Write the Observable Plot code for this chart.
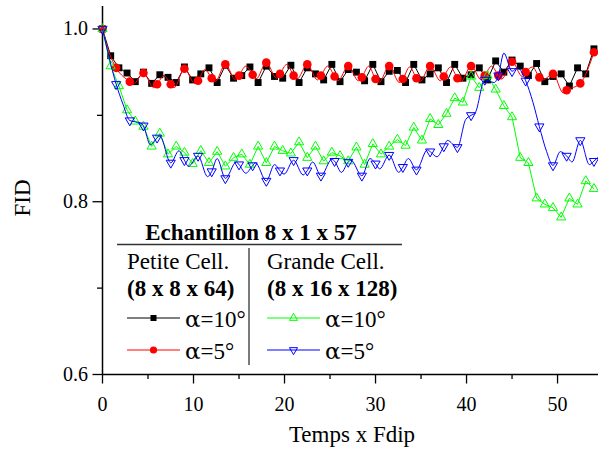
<!DOCTYPE html>
<html>
<head>
<meta charset="utf-8">
<script src="https://cdn.jsdelivr.net/npm/d3@7"></script>
<script src="https://cdn.jsdelivr.net/npm/@observablehq/plot@0.6"></script>
<style>
  html, body { margin: 0; padding: 0; background: #fff; }
</style>
</head>
<body>
<div id="chart"></div>
<script>
// ---------------- data ----------------
// sampling steps of the runs (time in units of 1/Fdip)
const stepBG = 0.9;   // black & green runs: one symbol every 0.9
const stepRB = 1.5;   // red & blue runs: one symbol every 1.5

// Petite Cell., alpha = 10° (black squares)
const blackVals = [
  1.000, 0.969, 0.955, 0.949, 0.939, 0.950, 0.937, 0.947, 0.944, 0.938,
  0.956, 0.941, 0.948, 0.955, 0.938, 0.958, 0.943, 0.946, 0.956, 0.938,
  0.957, 0.945, 0.943, 0.958, 0.938, 0.955, 0.948, 0.941, 0.959, 0.939,
  0.953, 0.950, 0.940, 0.959, 0.939, 0.951, 0.952, 0.938, 0.959, 0.941,
  0.948, 0.955, 0.938, 0.959, 0.943, 0.947, 0.955, 0.941, 0.963, 0.950,
  0.964, 0.957, 0.946, 0.960, 0.939, 0.945, 0.948, 0.934, 0.955, 0.948,
  0.977
];

// Grande Cell., alpha = 10° (green triangles)
const greenVals = [
  1.000, 0.957, 0.934, 0.906, 0.893, 0.887, 0.864, 0.879, 0.855, 0.864,
  0.857, 0.844, 0.859, 0.845, 0.858, 0.841, 0.851, 0.855, 0.843, 0.864,
  0.845, 0.864, 0.859, 0.856, 0.869, 0.851, 0.864, 0.847, 0.857, 0.853,
  0.847, 0.863, 0.843, 0.867, 0.855, 0.864, 0.872, 0.865, 0.886, 0.871,
  0.896, 0.889, 0.902, 0.920, 0.915, 0.945, 0.932, 0.946, 0.930, 0.911,
  0.898, 0.851, 0.845, 0.804, 0.797, 0.793, 0.782, 0.804, 0.797, 0.824,
  0.815
];

// Petite Cell., alpha = 5° (red circles) : symbol values
const redVals = [
  1.000, 0.955, 0.939, 0.949, 0.936, 0.936, 0.954, 0.940, 0.943, 0.959,
  0.946, 0.947, 0.961, 0.948, 0.946, 0.959, 0.946, 0.945, 0.957, 0.944,
  0.942, 0.957, 0.942, 0.943, 0.957, 0.945, 0.943, 0.957, 0.946, 0.946,
  0.962, 0.950, 0.944, 0.948, 0.929, 0.937, 0.973
];
// red curve: turning points between the symbols
const redExtraT = [0.75, 3.375, 5.625, 6.75, 7.875, 10.125, 11.25, 12.375, 14.625, 15.75,
  16.875, 19.125, 20.25, 21.375, 23.625, 24.75, 25.875, 28.125, 29.25, 30.375,
  32.625, 33.75, 34.875, 37.125, 38.25, 39.375, 41.625, 42.75, 43.875, 46.125,
  47.25, 48.375, 50.625];
const redExtraV = [0.972, 0.936, 0.932, 0.946, 0.932, 0.937, 0.953, 0.939, 0.941, 0.957,
  0.942, 0.943, 0.959, 0.942, 0.941, 0.957, 0.940, 0.940, 0.957, 0.938,
  0.938, 0.956, 0.939, 0.940, 0.956, 0.939, 0.941, 0.957, 0.942, 0.945,
  0.956, 0.941, 0.926];

// Grande Cell., alpha = 5° (blue down-triangles) : symbol values
const blueVals = [
  1.000, 0.936, 0.894, 0.888, 0.874, 0.845, 0.848, 0.853, 0.835, 0.827,
  0.843, 0.842, 0.824, 0.836, 0.848, 0.836, 0.830, 0.847, 0.846, 0.830,
  0.844, 0.854, 0.840, 0.837, 0.858, 0.864, 0.863, 0.900, 0.941, 0.946,
  0.951, 0.940, 0.887, 0.842, 0.853, 0.871, 0.847
];
// blue curve: turning points between the symbols
const blueExtraT = [0.75, 2.25, 4.2, 5.25, 6.3, 8.4, 9.45, 11.55, 12.6, 14.7,
  15.75, 16.8, 18.9, 19.95, 22.05, 23.1, 25.2, 26.25, 27.3, 29.4,
  30.45, 32.55, 33.6, 35.7, 36.75, 37.9, 39.9, 40.95, 43.05, 44.1,
  45.6, 47.3, 48.8, 50.3, 51.6, 53.5, 54.6];
const blueExtraV = [0.966, 0.913, 0.891, 0.866, 0.876, 0.859, 0.841, 0.829, 0.850, 0.846,
  0.833, 0.845, 0.843, 0.832, 0.831, 0.846, 0.849, 0.834, 0.848, 0.850,
  0.838, 0.834, 0.850, 0.860, 0.852, 0.871, 0.895, 0.903, 0.938, 0.972,
  0.955, 0.915, 0.858, 0.858, 0.846, 0.843, 0.853];

const xTicks = [0, 10, 20, 30, 40, 50];
const xMinor = [5, 15, 25, 35, 45];
const yTicks = [0.6, 0.8, 1.0];
const yMinor = [0.7, 0.9];

// ---------------- build tables ----------------
const pts = (vals, step) => vals.map((v, i) => ({t: Math.round(i * step * 1000) / 1000, v}));
const blackPts = pts(blackVals, stepBG);
const greenPts = pts(greenVals, stepBG);
const redPts = pts(redVals, stepRB);
const bluePts = pts(blueVals, stepRB);
const merge = (a, ts, vs) => a.concat(ts.map((t, i) => ({t, v: vs[i]}))).sort((p, q) => p.t - q.t);
const redLine = merge(redPts, redExtraT, redExtraV);
const blueLine = merge(bluePts, blueExtraT, blueExtraV);

const sqrt3 = Math.sqrt(3);
const triangleDown = {
  draw(context, size) {
    const y = -Math.sqrt(size / (sqrt3 * 3));
    context.moveTo(0, -y * 2);
    context.lineTo(-sqrt3 * y, y);
    context.lineTo(sqrt3 * y, y);
    context.closePath();
  }
};

const FONT = "'Liberation Serif', 'Times New Roman', Times, serif";
const GREEK = "'DejaVu Serif', 'Liberation Serif', serif";
const GREEN = "#00ff00", BLUE = "#0000ff", RED = "#ff0000";

const chart = Plot.plot({
  width: 598,
  height: 451,
  marginLeft: 102,
  marginRight: 0,
  marginTop: 6,
  marginBottom: 77,
  x: {domain: [0, 54.5]},
  y: {domain: [0.6, 1.026]},
  style: {fontFamily: FONT, fontSize: "20px", background: "white", color: "black", overflow: "visible"},
  marks: [
    Plot.axisY({ticks: yTicks, tickSize: 9.5, tickPadding: 5, tickFormat: d3.format(".1f"), label: null, strokeWidth: 1.3, fontSize: 20}),
    Plot.axisY({ticks: yMinor, tickSize: 5, tickFormat: () => "", label: null, strokeWidth: 1.3}),
    Plot.axisX({ticks: xTicks, tickSize: 9.5, tickPadding: 13, tickFormat: d3.format("d"), label: null, strokeWidth: 1.3, fontSize: 20}),
    Plot.axisX({ticks: xMinor, tickSize: 5, tickFormat: () => "", label: null, strokeWidth: 1.3}),
    Plot.ruleX([0], {stroke: "black", strokeWidth: 1.5}),
    Plot.ruleY([0.6], {stroke: "black", strokeWidth: 1.5}),

    Plot.line(blackPts, {x: "t", y: "v", stroke: "black", strokeWidth: 1, clip: true}),
    Plot.dot(blackPts, {x: "t", y: "v", symbol: "square", fill: "black", stroke: "none", r: 3.9}),

    Plot.line(redLine, {x: "t", y: "v", stroke: RED, strokeWidth: 1, curve: "monotone-x", clip: true}),
    Plot.dot(redPts, {x: "t", y: "v", symbol: "circle", fill: RED, stroke: "none", r: 4.3}),

    Plot.line(greenPts, {x: "t", y: "v", stroke: GREEN, strokeWidth: 1, clip: true}),
    Plot.dot(greenPts, {x: "t", y: "v", symbol: "triangle", fill: "none", stroke: GREEN, strokeWidth: 1, r: 3.4}),

    Plot.line(blueLine, {x: "t", y: "v", stroke: BLUE, strokeWidth: 1, curve: "monotone-x", clip: true}),
    Plot.dot(bluePts, {x: "t", y: "v", symbol: triangleDown, fill: "none", stroke: BLUE, strokeWidth: 1, r: 3.4})
  ]
});

document.getElementById("chart").appendChild(chart);

// ---------------- titles and inset legend ----------------
const svg = d3.select(chart);
const g = svg.append("g").attr("font-family", FONT).attr("fill", "black").attr("text-anchor", "start");

const txt = (x, y, s, opts = {}) => {
  const t = g.append("text").attr("x", x).attr("y", y)
    .attr("font-family", FONT).attr("font-size", opts.size || 23)
    .attr("text-anchor", opts.anchor || "start").text(s);
  if (opts.bold) t.attr("font-weight", "bold");
  return t;
};

g.append("text").attr("transform", "translate(25,198) rotate(-90)")
  .attr("text-anchor", "middle").attr("dominant-baseline", "middle")
  .attr("font-family", FONT).attr("font-size", 23).text("FID");
txt(352, 442, "Temps x Fdip", {anchor: "middle"});

txt(251, 240, "Echantillon 8 x 1 x 57", {anchor: "middle", bold: true});
g.append("line").attr("x1", 117).attr("x2", 402).attr("y1", 244.5).attr("y2", 244.5)
  .attr("stroke", "#333").attr("stroke-width", 1.3);
g.append("line").attr("x1", 249).attr("x2", 249).attr("y1", 248).attr("y2", 365)
  .attr("stroke", "#333").attr("stroke-width", 1.3);

txt(127, 269, "Petite Cell.");
txt(127, 296, "(8 x 8 x 64)", {bold: true});
txt(267, 269, "Grande Cell.");
txt(267, 296, "(8 x 16 x 128)", {bold: true});

const entries = [
  {x: 127, y: 318, color: "black", sym: d3.symbolSquare, size: Math.PI * 3.4 * 3.4, fill: "black", label: "=10°"},
  {x: 127, y: 350, color: RED, sym: d3.symbolCircle, size: Math.PI * 3.6 * 3.6, fill: RED, label: "=5°"},
  {x: 267, y: 318, color: GREEN, sym: d3.symbolTriangle, size: Math.PI * 3.0 * 3.0, fill: "none", label: "=10°"},
  {x: 267, y: 350, color: BLUE, sym: triangleDown, size: Math.PI * 3.0 * 3.0, fill: "none", label: "=5°"}
];
for (const e of entries) {
  g.append("line").attr("x1", e.x).attr("x2", e.x + 53).attr("y1", e.y).attr("y2", e.y)
    .attr("stroke", e.color).attr("stroke-width", 1);
  g.append("path").attr("d", d3.symbol(e.sym, e.size)())
    .attr("transform", `translate(${e.x + 26.5},${e.y})`)
    .attr("fill", e.fill).attr("stroke", e.fill === "none" ? e.color : "none");
  const t = g.append("text").attr("x", e.x + 58).attr("y", e.y + 8.5)
    .attr("font-size", 23).attr("text-anchor", "start");
  t.append("tspan").attr("font-family", GREEK).text("α");
  t.append("tspan").attr("font-family", FONT).text(e.label);
}
</script>
</body>
</html>
